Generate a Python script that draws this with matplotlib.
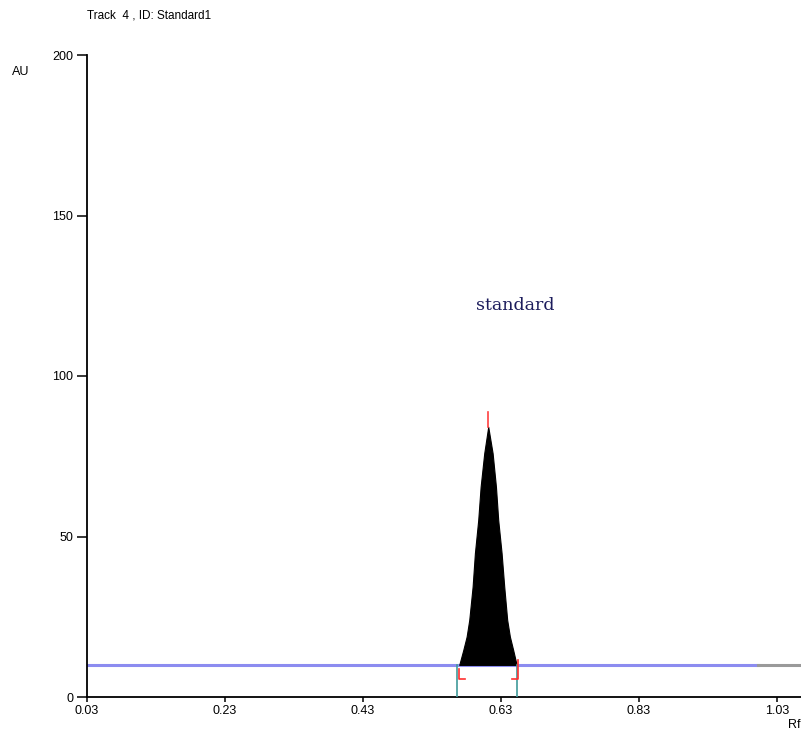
import matplotlib.pyplot as plt
import numpy as np

## data ##
title_text = "Track  4 , ID: Standard1"
peak_name = "standard"

x_ticks = [0.03, 0.23, 0.43, 0.63, 0.83, 1.03]
x_tick_labels = ["0.03", "0.23", "0.43", "0.63", "0.83", "1.03"]
y_ticks = [0, 50, 100, 150, 200]

baseline_au = 10
baseline_rf = [0.03, 1.002]      # blue part
tail_rf = [1.002, 1.065]         # grey part

peak_rf = [0.5696, 0.5754, 0.5803, 0.5841, 0.5890, 0.5923, 0.5971, 0.6006,
           0.6058, 0.6116, 0.6180, 0.6228, 0.6261, 0.6310, 0.6348, 0.6391,
           0.6430, 0.6478, 0.6528]
peak_au = [10.0, 14.6, 18.8, 24.0, 34.4, 44.8, 55.1, 65.5,
           75.9, 84.2, 75.9, 65.5, 55.1, 44.8, 34.4, 24.0,
           18.8, 14.6, 10.0]

peak_start = 0.5690
peak_end = 0.6546
peak_apex = 0.6116
peak_height = 84.2
integ_left = 0.5662
integ_right = 0.6532

label_rf = 0.651
label_au = 122

## figure ##
fig = plt.figure(figsize=(8.01, 7.33), dpi=100)
ax = fig.add_axes([87 / 801., 36 / 733., 714 / 801., 642 / 733.])

ax.set_xlim(0.03, 1.065)
ax.set_ylim(0, 200)

## baseline ##
ax.plot(baseline_rf, [baseline_au, baseline_au], color='#8c8cf0', lw=2.2, zorder=2)
ax.plot(tail_rf, [baseline_au, baseline_au], color='#9a9a9a', lw=2.2, zorder=2)

## peak ##
ax.fill_between(peak_rf, baseline_au, peak_au, color='black', lw=0.8, zorder=3)

## integration marks ##
ax.plot([integ_left, integ_left], [0, baseline_au], color='#3f9a9a', lw=1.2, zorder=4)
ax.plot([integ_right, integ_right], [0, baseline_au], color='#3f9a9a', lw=1.2, zorder=4)

ax.plot([peak_start + 0.009, peak_start, peak_start], [5.6, 5.6, 8.8],
        color='#ff3030', lw=1.2, zorder=5)
ax.plot([peak_end - 0.008, peak_end, peak_end], [5.6, 5.6, 11.5],
        color='#ff3030', lw=1.2, zorder=5)
ax.plot([peak_apex, peak_apex], [peak_height, peak_height + 4.5],
        color='#ff4040', lw=1.2, zorder=5)

ax.text(label_rf, label_au, peak_name, family='DejaVu Serif', fontsize=12.5,
        color='#1c1c5c', ha='center', va='center')

## axes styling ##
for side in ['top', 'right']:
    ax.spines[side].set_visible(False)
ax.spines['left'].set_linewidth(1.3)
ax.spines['bottom'].set_linewidth(1.3)

ax.set_xticks(x_ticks)
ax.set_xticklabels(x_tick_labels)
ax.set_yticks(y_ticks)
ax.tick_params(axis='y', direction='out', length=7, width=1.1, pad=3,
               labelsize=9)
ax.tick_params(axis='x', direction='out', length=3.5, width=1.1, pad=2,
               labelsize=9)
for lab in ax.get_xticklabels() + ax.get_yticklabels():
    lab.set_family('Liberation Sans')

fig.text(87 / 801., 1 - 16 / 733., title_text, family='Liberation Sans',
         fontsize=8.5, ha='left', va='center')
fig.text(12 / 801., 1 - 72 / 733., "AU", family='Liberation Sans',
         fontsize=9, ha='left', va='center')
fig.text(788 / 801., 1 - 725 / 733., "Rf", family='Liberation Sans',
         fontsize=9, ha='left', va='center')

plt.savefig("out.png", dpi=100)
